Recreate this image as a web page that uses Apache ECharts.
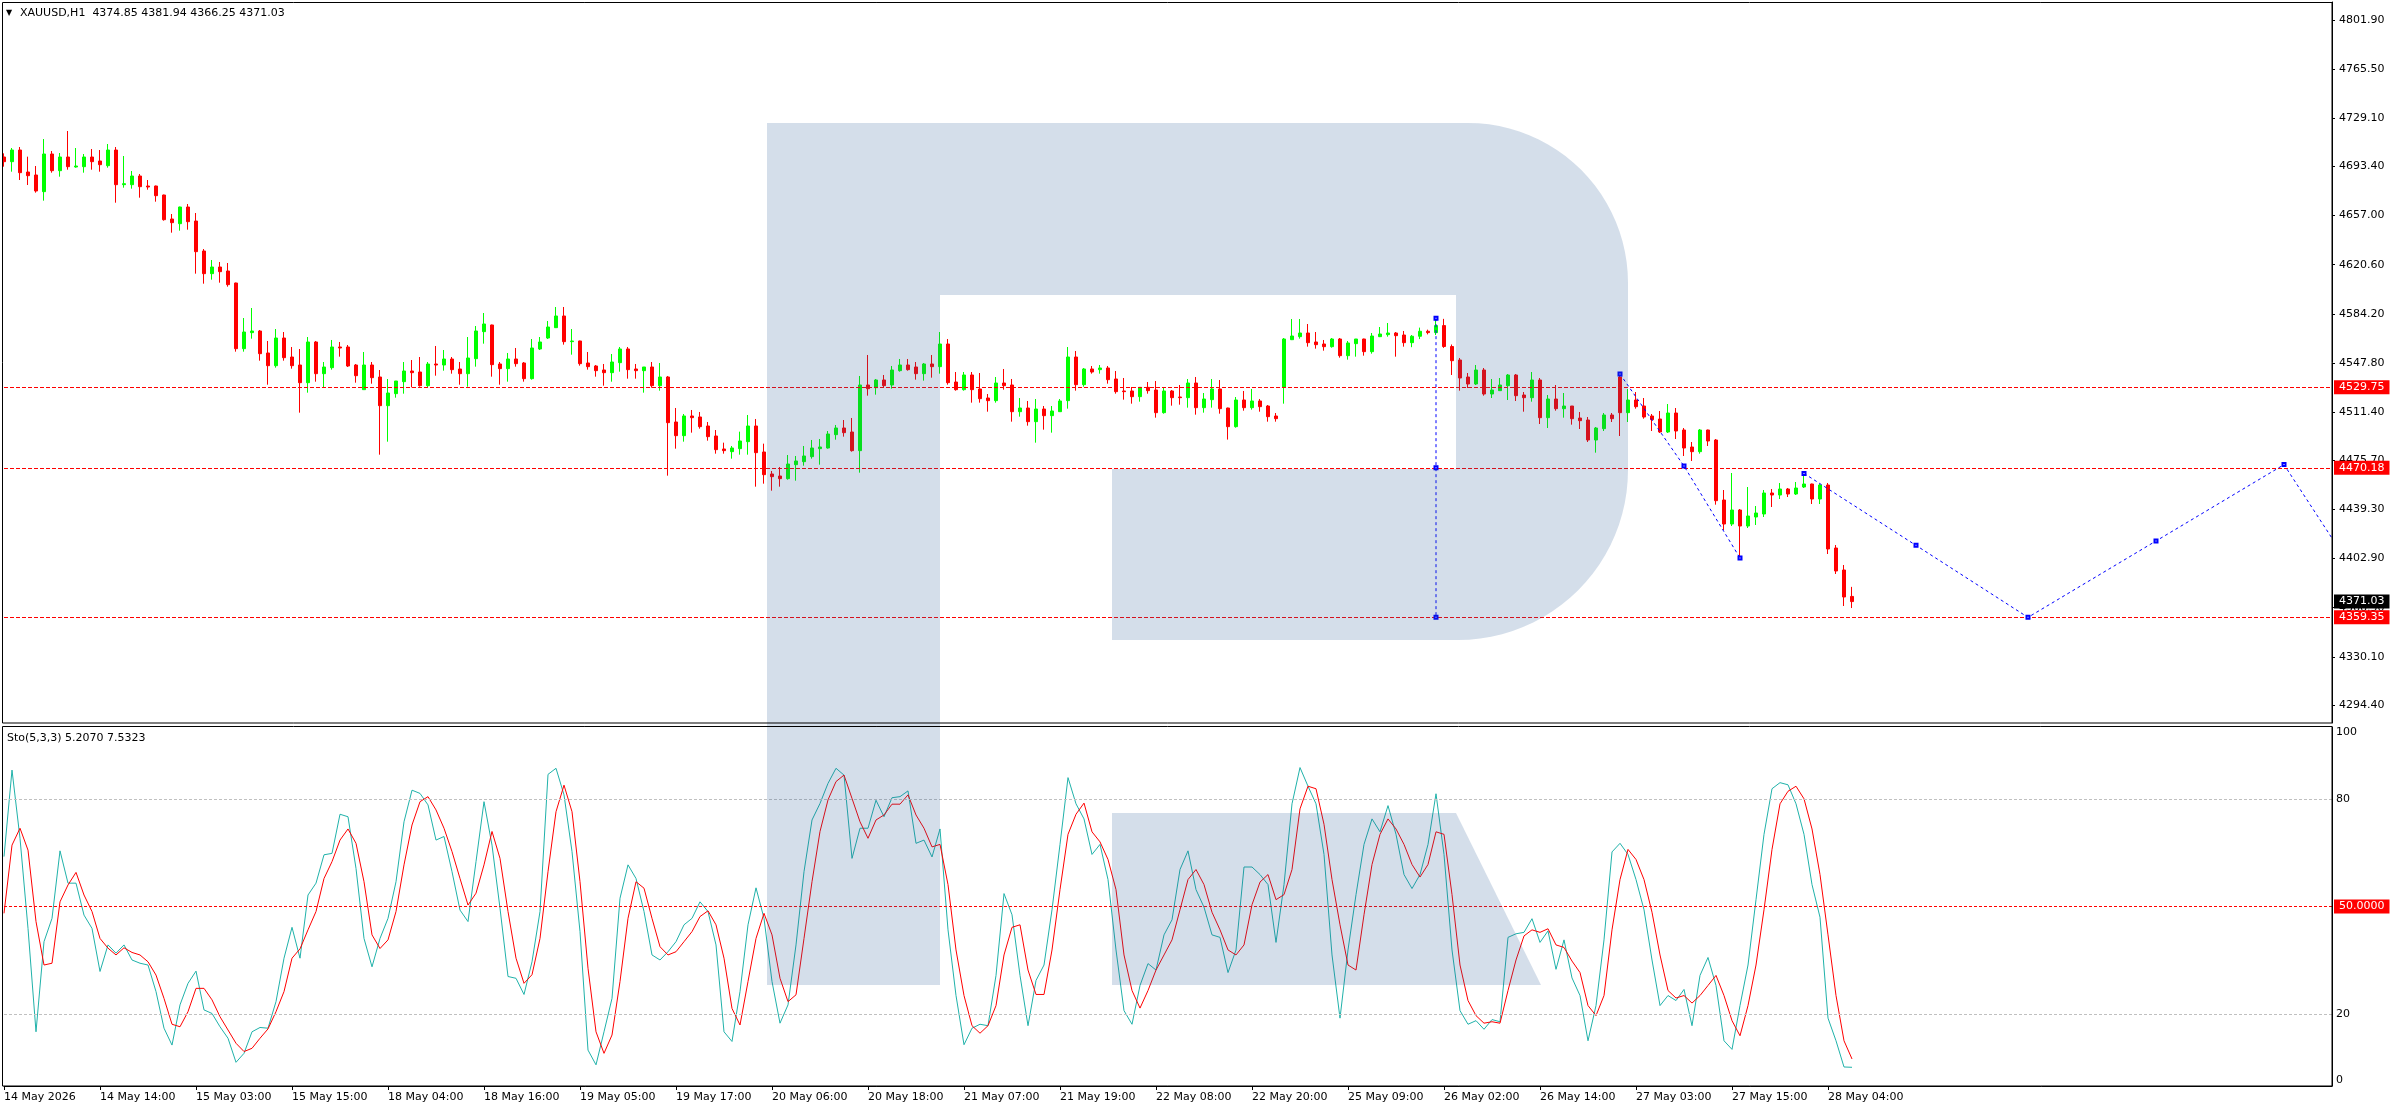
<!DOCTYPE html>
<html><head><meta charset="utf-8">
<script src="https://cdn.jsdelivr.net/npm/echarts@6/dist/echarts.min.js"></script>
<style>html,body{margin:0;padding:0;background:#fff;overflow:hidden}#c{width:2396px;height:1110px}</style>
</head><body><div id="c"></div><script>
// ---- XAUUSD H1 candles (bar 0 = 14 May 2026) ----
const opens = [4700.40,4696.94,4705.58,4689.29,4687.07,4674.72,4702.62,4690.27,4700.40,4692.99,
4693.24,4700.40,4697.44,4693.98,4705.58,4679.90,4679.90,4686.32,4678.92,4678.92,
4672.25,4654.47,4651.01,4663.36,4652.98,4630.76,4613.97,4618.91,4615.94,4607.05,
4558.41,4570.26,4571.49,4555.20,4545.81,4566.31,4552.23,4546.30,4533.21,4563.35,
4539.88,4544.33,4559.65,4559.65,4546.30,4528.03,4546.30,4537.41,4516.18,4525.07,
4533.95,4541.86,4541.12,4530.99,4547.04,4546.30,4550.75,4543.34,4539.88,4551.00,
4571.01,4575.95,4547.05,4543.60,4550.76,4547.79,4536.19,4558.17,4566.31,4573.97,
4582.61,4563.60,4564.09,4547.79,4545.57,4542.61,4540.63,4548.04,4558.17,4543.35,
4542.11,4544.83,4531.00,4537.42,4504.08,4493.96,4508.53,4507.79,4501.12,4493.71,
4484.08,4482.10,4484.33,4489.51,4501.12,4481.86,4465.56,4464.07,4462.10,4472.47,
4474.69,4478.40,4484.33,4484.82,4494.70,4499.64,4496.67,4482.85,4531.49,4529.52,
4535.20,4531.49,4542.11,4546.31,4544.83,4539.89,4547.05,4545.08,4561.86,4533.71,
4528.03,4538.90,4528.53,4521.86,4519.89,4532.97,4531.49,4511.73,4514.45,4504.33,
4513.71,4508.77,4511.73,4519.89,4552.23,4531.74,4543.35,4542.85,4544.09,4535.94,
4527.05,4527.05,4522.85,4529.76,4527.79,4510.99,4527.05,4522.60,4522.11,4532.97,
4514.70,4520.63,4528.53,4514.45,4500.62,4520.38,4514.70,4519.64,4515.93,4508.52,
4529.76,4565.07,4567.30,4570.01,4563.35,4561.86,4559.89,4565.57,4553.22,4562.11,
4565.57,4556.19,4567.30,4568.78,4570.01,4568.53,4562.85,4567.60,4571.30,4570.30,
4575.50,4560.00,4550.01,4537.41,4532.23,4542.60,4524.82,4527.29,4531.00,4538.89,
4524.08,4522.10,4535.19,4507.28,4521.11,4513.95,4515.92,4507.04,4505.56,4490.74,
4499.14,4509.26,4537.41,4510.99,4520.37,4515.92,4508.52,4506.30,4496.67,4510.74,
4498.15,4485.55,4482.10,4498.15,4490.74,4446.29,4428.51,4438.88,4427.02,4433.69,
4435.92,4451.47,4449.99,4454.44,4450.73,4455.92,4458.14,4447.03,4457.40,4410.73,
4394.43,4374.85];
const highs = [4703.12,4707.07,4707.81,4700.65,4693.73,4713.73,4704.84,4703.36,4719.66,4707.07,
4702.62,4706.33,4705.58,4710.03,4707.81,4701.14,4690.03,4687.80,4683.36,4679.20,
4672.50,4658.17,4663.60,4665.58,4658.91,4632.24,4624.09,4622.61,4621.87,4607.30,
4581.12,4588.53,4572.23,4564.09,4572.97,4570.75,4559.65,4558.16,4567.05,4564.09,
4548.53,4564.83,4563.35,4561.13,4547.04,4555.94,4548.53,4542.60,4535.93,4534.45,
4548.53,4550.01,4552.23,4548.53,4560.39,4557.42,4552.23,4548.53,4567.05,4575.20,
4584.83,4576.20,4548.53,4555.20,4558.91,4548.53,4565.57,4567.05,4578.91,4589.28,
4589.28,4572.98,4564.30,4555.94,4546.31,4547.05,4554.46,4559.65,4559.65,4547.05,
4544.83,4548.53,4547.79,4538.16,4514.46,4510.01,4512.97,4511.49,4504.08,4498.15,
4488.77,4486.30,4496.92,4509.27,4506.31,4488.03,4467.78,4470.74,4479.63,4478.89,
4486.30,4490.75,4491.49,4497.41,4501.86,4505.56,4507.05,4538.16,4553.72,4535.94,
4538.90,4545.57,4550.76,4550.76,4548.53,4547.79,4553.72,4570.75,4565.57,4541.12,
4541.12,4541.12,4540.38,4524.82,4537.42,4543.35,4535.94,4521.86,4519.64,4521.12,
4515.93,4515.93,4521.12,4559.64,4556.68,4544.09,4545.57,4546.31,4545.57,4541.86,
4536.68,4530.01,4529.76,4533.71,4534.45,4529.27,4527.79,4531.49,4535.94,4537.42,
4525.56,4535.94,4535.19,4514.70,4522.60,4527.05,4528.53,4521.12,4516.67,4510.74,
4566.31,4580.39,4580.39,4576.68,4570.75,4564.83,4566.31,4566.31,4564.09,4565.60,
4565.80,4570.01,4574.46,4577.42,4570.75,4571.49,4568.50,4574.00,4572.50,4581.01,
4580.50,4561.50,4551.50,4540.37,4546.30,4544.08,4535.93,4536.67,4539.63,4539.63,
4526.30,4541.12,4536.67,4524.08,4531.48,4525.56,4515.92,4511.48,4507.78,4500.37,
4510.74,4510.74,4539.63,4528.52,4526.30,4521.85,4510.00,4512.22,4517.40,4514.44,
4499.63,4489.26,4498.89,4498.40,4491.48,4453.69,4466.29,4439.62,4455.92,4441.84,
4453.69,4454.44,4458.88,4455.18,4459.62,4466.00,4458.40,4458.14,4458.88,4412.94,
4398.14,4381.94];
const lows = [4693.24,4689.53,4683.36,4679.66,4673.98,4668.05,4688.79,4685.83,4691.01,4692.50,
4688.79,4691.01,4689.53,4692.50,4666.55,4677.68,4676.94,4670.27,4676.20,4667.31,
4653.23,4644.34,4645.82,4646.56,4613.97,4606.56,4609.52,4607.30,4604.34,4556.19,
4556.19,4565.81,4549.51,4531.73,4544.33,4549.51,4543.59,4511.00,4525.81,4533.95,
4529.76,4542.85,4552.48,4544.82,4533.21,4527.80,4532.47,4479.87,4489.50,4522.11,
4525.07,4529.76,4530.25,4529.51,4538.40,4542.10,4539.88,4531.73,4530.25,4545.08,
4562.12,4537.67,4531.74,4533.96,4545.08,4533.96,4535.45,4557.42,4565.57,4573.70,
4561.38,4553.97,4545.82,4542.86,4537.67,4531.00,4533.96,4541.37,4536.19,4536.19,
4525.81,4529.52,4527.30,4464.32,4484.33,4489.51,4496.18,4499.14,4490.25,4480.62,
4480.62,4476.92,4479.88,4479.88,4456.17,4458.39,4453.21,4456.17,4461.36,4460.61,
4471.73,4476.92,4472.47,4484.33,4490.99,4493.22,4482.10,4466.54,4523.59,4524.33,
4529.52,4528.78,4541.37,4542.11,4535.45,4534.71,4536.93,4539.89,4531.74,4527.29,
4527.29,4518.40,4518.40,4511.73,4518.40,4528.03,4504.33,4508.03,4501.36,4488.77,
4498.40,4496.18,4511.50,4513.96,4527.29,4530.26,4539.89,4539.89,4532.48,4525.07,
4520.63,4517.66,4519.14,4525.07,4507.29,4510.25,4516.18,4516.92,4514.70,4509.51,
4510.99,4514.70,4510.25,4491.05,4499.88,4512.47,4513.21,4511.73,4504.33,4504.33,
4517.66,4564.80,4565.81,4559.89,4558.41,4556.93,4559.15,4551.74,4550.26,4552.48,
4553.22,4554.70,4567.00,4567.30,4552.48,4559.89,4559.50,4565.50,4569.00,4568.50,
4559.00,4538.90,4527.29,4529.26,4531.48,4523.58,4521.85,4527.10,4520.37,4519.63,
4511.73,4519.14,4502.59,4499.63,4512.47,4507.28,4502.10,4498.89,4489.26,4481.36,
4497.41,4504.07,4493.70,4504.07,4513.95,4506.54,4497.41,4495.93,4495.93,4491.48,
4478.88,4475.18,4480.61,4486.29,4442.83,4424.06,4427.02,4403.32,4425.54,4427.77,
4433.69,4441.10,4447.03,4448.51,4449.99,4455.18,4443.32,4443.32,4406.28,4391.47,
4367.76,4366.25];
const closes = [4696.94,4705.58,4688.79,4686.57,4675.21,4702.62,4690.27,4700.40,4693.24,4693.73,
4700.40,4696.94,4694.72,4705.58,4679.90,4680.64,4686.32,4678.42,4678.17,4671.75,
4653.97,4651.75,4663.36,4652.49,4630.27,4613.97,4618.91,4615.45,4605.82,4558.41,
4570.75,4571.49,4554.70,4545.81,4566.31,4551.74,4545.81,4533.21,4563.35,4539.88,
4544.82,4559.65,4558.90,4545.56,4538.40,4546.30,4536.91,4516.18,4525.56,4534.45,
4541.86,4540.62,4530.99,4547.04,4546.30,4550.75,4542.85,4539.88,4551.49,4571.50,
4576.69,4546.56,4543.60,4550.76,4547.30,4536.19,4558.91,4563.35,4574.46,4582.61,
4563.60,4564.09,4547.30,4545.08,4542.11,4540.63,4548.53,4558.17,4542.86,4542.11,
4544.83,4531.00,4537.42,4503.59,4493.96,4508.53,4507.29,4500.62,4493.22,4483.59,
4482.85,4484.82,4490.01,4501.12,4481.36,4465.06,4463.58,4462.10,4472.96,4475.19,
4478.89,4484.82,4485.56,4495.19,4499.64,4496.18,4482.85,4531.49,4528.78,4535.20,
4531.00,4542.61,4546.31,4542.86,4539.89,4547.05,4545.08,4561.86,4533.22,4528.03,
4538.90,4528.03,4521.37,4519.89,4532.97,4531.00,4511.73,4514.45,4504.33,4513.71,
4508.77,4512.23,4519.64,4552.23,4531.74,4543.35,4541.12,4544.09,4535.44,4526.55,
4526.55,4522.85,4529.76,4527.29,4510.99,4527.05,4522.11,4522.11,4532.97,4514.70,
4521.12,4528.53,4513.96,4500.62,4520.38,4514.70,4519.64,4515.44,4508.03,4506.55,
4565.57,4567.79,4570.01,4562.85,4561.37,4559.89,4565.57,4553.22,4562.61,4565.57,
4556.19,4567.79,4569.27,4570.01,4568.04,4562.85,4567.60,4571.30,4570.30,4575.50,
4560.00,4549.50,4536.67,4532.23,4542.60,4524.82,4527.78,4531.48,4538.89,4523.58,
4522.10,4535.19,4507.28,4521.11,4513.95,4515.92,4506.54,4505.06,4490.74,4499.63,
4509.26,4506.54,4510.99,4520.37,4515.43,4507.78,4505.80,4496.67,4510.74,4497.41,
4484.81,4482.10,4498.15,4490.00,4445.79,4428.51,4438.88,4427.02,4434.43,4436.66,
4451.47,4449.99,4454.44,4450.73,4455.18,4458.14,4447.03,4457.40,4409.99,4393.69,
4374.43,4371.03];
// ---- Stochastic (5,3,3) ----
const stochK = [63.9,88.0,69.0,43.9,15.1,40.2,46.7,65.5,56.5,56.5,
47.6,43.9,31.9,39.3,37.0,39.3,35.1,34.2,33.7,26.3,
16.1,11.4,22.6,28.6,32.0,21.2,20.2,16.5,13.3,6.6,
9.1,15.1,16.3,16.1,23.5,35.6,44.2,35.6,53.2,56.5,
64.4,64.8,75.7,75.0,60.6,41.1,33.2,41.1,46.7,56.9,
73.6,82.4,81.5,78.3,68.5,69.5,59.7,49.0,45.8,62.5,
79.2,67.1,49.5,30.5,30.0,25.5,34.6,48.6,86.8,88.5,
81.1,65.3,43.0,10.0,5.9,15.1,24.4,52.3,61.6,57.8,
48.6,36.5,35.1,37.4,40.2,44.9,46.7,51.3,48.6,39.3,
15.1,12.4,26.3,44.9,55.2,46.7,29.1,17.5,22.6,39.3,
59.7,74.1,78.7,84.3,88.5,86.6,63.4,71.8,71.8,79.6,
75.0,80.3,80.6,82.2,67.6,68.5,63.8,71.6,43.5,25.2,
11.5,16.1,17.2,16.8,30.8,53.6,47.7,30.8,16.8,29.4,
33.7,49.1,67.3,85.9,78.6,74.4,64.5,67.3,57.5,37.9,
21.0,17.2,28.0,34.1,32.3,42.1,46.3,60.3,65.5,54.7,
49.8,42.1,41.4,31.6,37.9,61.0,61.0,58.9,56.1,40.0,
56.1,78.6,88.7,83.5,78.6,64.5,36.5,18.9,37.9,53.3,
67.3,74.4,70.8,78.1,70.1,58.9,55.0,58.9,67.3,81.4,
64.5,37.9,21.0,17.2,18.2,15.8,18.5,17.9,41.4,42.4,
42.8,46.6,40.0,43.2,32.5,40.7,30.1,25.2,12.6,22.4,
40.7,65.2,67.6,64.5,57.5,49.1,35.1,22.4,25.2,23.8,
26.9,16.8,30.8,35.8,28.0,12.6,10.2,22.4,33.7,51.9,
70.1,82.8,84.5,83.9,78.6,70.1,56.1,47.0,18.9,12.6,
5.3,5.207];
const stochD = [48.1,67.1,71.8,65.7,45.8,33.7,34.2,51.3,56.0,59.5,
53.2,48.6,41.1,38.4,36.5,38.5,37.2,36.5,34.6,30.9,
24.4,17.2,16.5,20.7,27.2,27.2,24.0,19.3,15.6,11.9,
9.6,10.5,13.3,15.9,20.7,26.3,35.6,38.2,43.5,48.6,
57.8,62.5,68.5,71.6,67.6,56.9,42.1,38.3,40.7,48.6,
61.6,72.7,79.2,80.6,76.9,71.8,65.3,57.8,50.4,53.7,
61.6,70.9,63.4,48.6,35.6,28.6,31.0,41.1,59.7,76.4,
83.8,76.4,56.9,32.8,15.1,9.1,14.2,29.1,46.7,56.9,
55.1,46.7,38.8,36.5,37.4,40.2,43.0,47.2,48.8,44.9,
35.6,21.6,17.0,29.1,41.1,48.1,42.1,30.0,23.5,25.4,
41.1,56.9,70.9,79.7,84.8,86.6,80.1,73.6,69.0,74.1,
75.5,78.5,78.5,81.1,75.5,71.8,66.6,67.3,56.1,37.9,
25.2,16.8,14.7,16.8,22.4,36.5,44.2,44.9,32.3,25.5,
25.5,37.9,54.7,70.1,75.7,78.8,70.8,68.0,63.1,54.7,
36.5,26.6,21.7,26.6,32.3,36.5,40.7,49.1,57.5,60.3,
56.1,48.4,43.5,37.9,36.5,39.3,50.5,56.8,58.9,51.9,
53.3,60.3,77.2,83.5,82.8,72.9,57.5,44.9,33.7,32.3,
47.7,61.7,70.1,74.4,71.6,67.3,61.7,58.2,61.7,70.8,
70.1,53.3,33.7,23.8,19.6,17.5,17.9,17.5,26.6,35.1,
41.8,43.5,42.8,43.8,39.3,38.6,34.8,31.6,22.4,19.6,
25.2,43.5,57.5,65.9,63.1,57.5,48.4,36.5,26.6,24.5,
25.2,23.1,25.2,28.0,30.8,25.2,18.2,14.0,22.4,33.7,
49.1,65.9,78.6,82.1,83.5,80.0,71.6,58.9,42.1,25.2,
12.6,7.5323];
// ---- axes / labels ----
const timeLabels = ['14 May 2026','14 May 14:00','15 May 03:00','15 May 15:00','18 May 04:00','18 May 16:00',
  '19 May 05:00','19 May 17:00','20 May 06:00','20 May 18:00','21 May 07:00','21 May 19:00','22 May 08:00',
  '22 May 20:00','25 May 09:00','26 May 02:00','26 May 14:00','27 May 03:00','27 May 15:00','28 May 04:00'];
const barsPerLabel = 12;
const totalSlots = 292;
const priceTicks = [4294.40,4330.10,4366.50,4402.90,4439.30,4475.70,4511.40,4547.80,4584.20,4620.60,4657.00,4693.40,4729.10,4765.50,4801.90];
const stochTicks = [0,20,80,100];
const levelLines = [4529.75,4470.18,4359.35];
const lastPrice = 4371.03;
const stochLevels = [80,20];
const stochMid = 50;
// ---- drawn objects (bar index, price) ----
const measureLine = [[179,4581.01],[179,4470.18],[179,4359.35]];
const trendLine = [[202,4539.63],[209.5,4471.47],[217,4403.32]];
const forecastPath = [[225,4466.00],[239,4412.68],[253,4359.35],[269,4415.93],[285,4472.50],[291,4418.00]];

const FONT = '"DejaVu Sans", sans-serif';
const chart = echarts.init(document.getElementById('c'), null, {width:2396, height:1110});
const cats = Array.from({length: totalSlots}, (_, i) => String(i));
const showLabel = i => i % barsPerLabel === 0 && i / barsPerLabel < timeLabels.length;
const ohlc = opens.map((o, i) => [o, closes[i], lows[i], highs[i]]);
const n = closes.length - 1;
const headerText = 'XAUUSD,H1  ' + [opens[n], highs[n], lows[n], closes[n]].map(v => v.toFixed(2)).join(' ');
const stochText = 'Sto(5,3,3) ' + stochK[n].toFixed(4) + ' ' + stochD[n].toFixed(4);
const boxLabel = (txt, bg) => ({show:true, position:'end', distance:2, formatter:txt, backgroundColor:bg,
  color:'#ffffff', padding:[1,5,1,5], fontSize:11, lineHeight:12, fontFamily:FONT});
const blueLine = {color:'#0000ff', width:1, type:[3,3]};
const blueSeries = (pts, lastNoMarker) => ({
  type:'line', xAxisIndex:0, yAxisIndex:0, z:5, showAllSymbol:true, symbol:'emptyRect', symbolSize:3,
  itemStyle:{color:'#0000ff', borderColor:'#0000ff', borderWidth:1}, lineStyle:blueLine, silent:true,
  data: pts.map((p, i) => (lastNoMarker && i === pts.length - 1) ? {value:p, symbol:'none'} : {value:p})
});

// watermark outline (screen px), arcs approximated by points
function arcPts(cx, cy, r, a0, a1, steps) {
  const out = [];
  for (let k = 0; k <= steps; k++) {
    const a = a0 + (a1 - a0) * k / steps;
    out.push([cx + r * Math.cos(a), cy + r * Math.sin(a)]);
  }
  return out;
}
const logoPts = [[767,123],[1468,123]]
  .concat(arcPts(1468, 283, 160, -Math.PI / 2, 0, 24))
  .concat([[1628,470]])
  .concat(arcPts(1458, 470, 170, 0, Math.PI / 2, 24))
  .concat([[1112,640],[1112,469],[1456,469],[1456,295],[940,295],[940,985],[767,985]]);

const option = {
  animation:false,
  backgroundColor:'#ffffff',
  textStyle:{fontFamily:FONT},
  grid:[
    {left:4, top:2, width:2328, height:721, containLabel:false, show:false},
    {left:4, top:727, width:2328, height:359, containLabel:false, show:false}
  ],
  xAxis:[
    {type:'category', gridIndex:0, data:cats, boundaryGap:false, show:false},
    {type:'category', gridIndex:1, data:cats, boundaryGap:false,
      axisLine:{show:true, lineStyle:{color:'#000', width:1}},
      axisTick:{show:true, length:4, interval:(i)=>showLabel(i), lineStyle:{color:'#000'}},
      axisLabel:{interval:(i)=>showLabel(i), formatter:(v, i)=>timeLabels[i / barsPerLabel] || '',
        align:'left', margin:6, color:'#000', fontSize:11, fontFamily:FONT},
      splitLine:{show:false}}
  ],
  yAxis:[
    {type:'value', gridIndex:0, position:'right', min:4281.08, max:4815.24,
      axisLine:{show:true, lineStyle:{color:'#000'}},
      axisTick:{show:true, length:3, customValues:priceTicks, lineStyle:{color:'#000'}},
      axisLabel:{customValues:priceTicks, formatter:v=>v.toFixed(2), margin:7, color:'#000', fontSize:11, fontFamily:FONT},
      splitLine:{show:false}},
    {type:'value', gridIndex:1, position:'right', min:0, max:100,
      axisLine:{show:true, lineStyle:{color:'#000'}},
      axisTick:{show:false},
      axisLabel:{customValues:stochTicks, formatter:v=>String(v), margin:4, color:'#000', fontSize:11, fontFamily:FONT,
        verticalAlignMinLabel:'bottom', verticalAlignMaxLabel:'top'},
      splitLine:{show:false}}
  ],
  series:[
    {type:'candlestick', xAxisIndex:0, yAxisIndex:0, data:ohlc, barWidth:4, clip:false, silent:true,
      itemStyle:{color:'#00ff00', color0:'#ff0000', borderColor:'#00ff00', borderColor0:'#ff0000', borderWidth:1},
      markLine:{silent:true, symbol:['none','none'],
        data: levelLines.map(v => ({yAxis:v, lineStyle:{color:'#ff0000', type:[4,2], width:1}, label:boxLabel(v.toFixed(2), '#ff0000')}))
          .concat([{yAxis:lastPrice, lineStyle:{color:'rgba(0,0,0,0)', width:1}, label:boxLabel(lastPrice.toFixed(2), '#000000')}])}},
    blueSeries(measureLine, false),
    blueSeries(trendLine, false),
    blueSeries(forecastPath, true),
    {type:'line', xAxisIndex:1, yAxisIndex:1, data:stochK, symbol:'none', showSymbol:false, z:3, silent:true,
      lineStyle:{color:'#20b2aa', width:1},
      markLine:{silent:true, symbol:['none','none'],
        data: stochLevels.map(v => ({yAxis:v, lineStyle:{color:'#c0c0c0', type:[3,2], width:1}, label:{show:false}}))
          .concat([{yAxis:stochMid, lineStyle:{color:'#ff0000', type:[3,2], width:1}, label:boxLabel(stochMid.toFixed(4), '#ff0000')}])}},
    {type:'line', xAxisIndex:1, yAxisIndex:1, data:stochD, symbol:'none', showSymbol:false, z:4, silent:true,
      lineStyle:{color:'#ff0000', width:1}}
  ],
  graphic:{elements:[
    {type:'polygon', silent:true, z:50, shape:{points:logoPts}, style:{fill:'rgba(40,90,150,0.2)'}},
    {type:'polygon', silent:true, z:50, shape:{points:[[1112,813],[1456,813],[1541,985],[1112,985]]},
      style:{fill:'rgba(40,90,150,0.2)'}},
    {type:'rect', silent:true, z:60, shape:{x:2.5, y:2.5, width:2329.5, height:720.5}, style:{fill:'none', stroke:'#000', lineWidth:1}},
    {type:'rect', silent:true, z:60, shape:{x:2.5, y:726.5, width:2329.5, height:359.5}, style:{fill:'none', stroke:'#000', lineWidth:1}},
    {type:'text', silent:true, z:60, x:6, y:13, style:{text:'▼', font:'8px ' + FONT, fill:'#000', verticalAlign:'middle'}},
    {type:'text', silent:true, z:60, x:20, y:13, style:{text:headerText, font:'11px ' + FONT, fill:'#000', verticalAlign:'middle'}},
    {type:'text', silent:true, z:60, x:7, y:738, style:{text:stochText, font:'11px ' + FONT, fill:'#000', verticalAlign:'middle'}}
  ]}
};
chart.setOption(option);
</script></body></html>
